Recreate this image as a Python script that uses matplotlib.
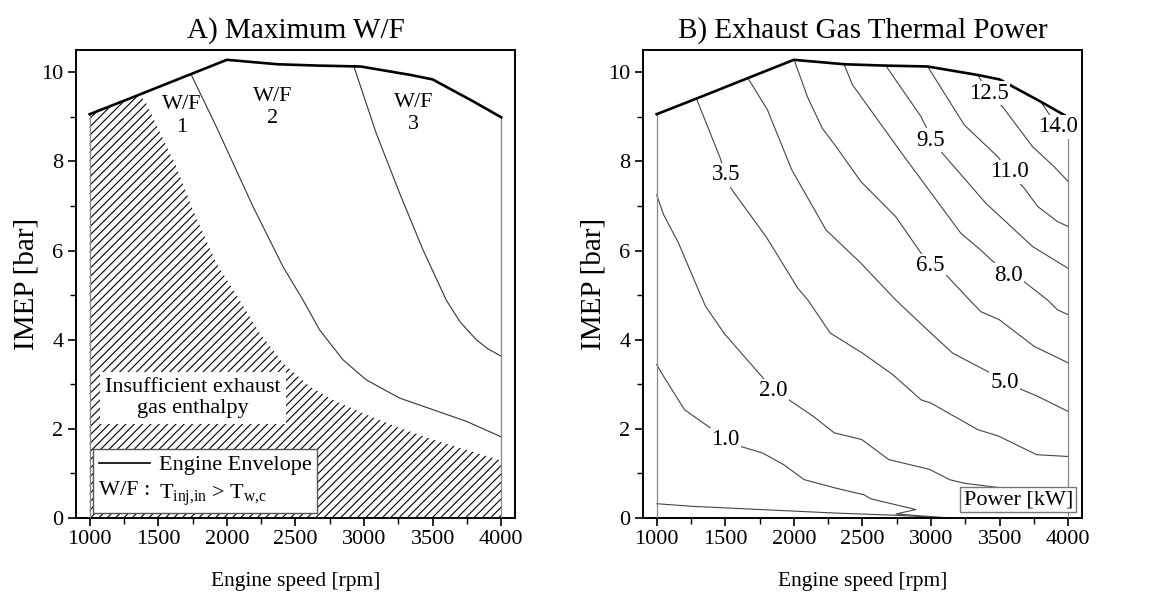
import matplotlib
matplotlib.use("Agg")
import matplotlib.pyplot as plt
import numpy as np
from matplotlib.legend_handler import HandlerBase
from matplotlib.lines import Line2D
from matplotlib.text import Text
from matplotlib.offsetbox import AnchoredText

plt.rcParams['font.family'] = ['Liberation Serif', 'DejaVu Serif']
plt.rcParams['mathtext.fontset'] = 'custom'
plt.rcParams['mathtext.rm'] = 'Liberation Serif'
plt.rcParams['mathtext.it'] = 'Liberation Serif:italic'
plt.rcParams['hatch.linewidth'] = 0.8

# engine envelope (max IMEP vs speed)
env_rpm = [1000, 1290, 1665, 2000, 2370, 2670, 2975, 3340, 3500, 3800, 4000]
env_imep = [9.06, 9.41, 9.87, 10.28, 10.18, 10.15, 10.13, 9.94, 9.84, 9.34, 8.99]

# A) boundaries
ins_rpm = [1364, 1413, 1632, 1753, 1923, 2093, 2239, 2409, 2603, 2773, 3016, 3259, 3502, 4000]
ins_imep = [9.50, 9.30, 7.88, 6.91, 5.72, 4.89, 4.15, 3.48, 2.95, 2.65, 2.32, 2.02, 1.76, 1.29]
wf1_rpm = [1741, 1923, 2190, 2409, 2555, 2676, 2846, 3016, 3259, 3502, 3745, 4000]
wf1_imep = [9.94, 8.78, 6.99, 5.64, 4.89, 4.22, 3.55, 3.10, 2.69, 2.43, 2.17, 1.82]
wf2_rpm = [2926, 3089, 3259, 3429, 3599, 3700, 3818, 3900, 4000]
wf2_imep = [10.13, 8.63, 7.29, 6.02, 4.89, 4.40, 4.00, 3.80, 3.63]
wf_labels = ["W/F\n1", "W/F\n2", "W/F\n3"]
wf_lab_rpm = [1668, 2336, 3360]
wf_lab_imep = [9.02, 9.21, 9.08]

# B) exhaust thermal power contours [kW]
contours = {
    0.5: ([1000, 1269, 2306, 2750, 3130],
          [0.32, 0.26, 0.11, 0.06, 0.0]),
    1.0: ([1000, 1050, 1203, 1410, 1498, 1607, 1771, 1924, 2076, 2306, 2512, 2561, 2889, 2745, 3000, 3130],
          [3.44, 3.18, 2.43, 1.98, 1.76, 1.61, 1.46, 1.20, 0.86, 0.67, 0.52, 0.43, 0.19, 0.09, 0.03, 0.0]),
    2.0: ([1000, 1050, 1159, 1300, 1356, 1495, 1765, 1850, 1955, 2142, 2295, 2495, 2692, 2990, 3135, 3242, 3500, 4000],
          [7.25, 6.81, 6.17, 5.15, 4.75, 4.13, 3.18, 2.84, 2.67, 2.28, 1.91, 1.76, 1.31, 1.09, 0.86, 0.78, 0.68, 0.58]),
    3.5: ([1290, 1465, 1500, 1545, 1800, 2030, 2100, 2265, 2500, 2720, 2928, 2998, 3342, 3490, 3770, 4000],
          [9.41, 8.06, 7.70, 7.38, 6.30, 5.15, 4.90, 4.15, 3.70, 3.22, 2.65, 2.58, 1.98, 1.84, 1.42, 1.38]),
    5.0: ([1665, 1807, 1985, 2235, 2488, 2743, 2974, 3157, 3436, 3533, 3631, 3777, 4000],
          [9.87, 9.16, 7.81, 6.46, 5.72, 4.89, 4.22, 3.70, 3.25, 3.03, 2.92, 2.73, 2.39]),
    6.5: ([2002, 2099, 2208, 2306, 2488, 2743, 2986, 3120, 3278, 3363, 3497, 3752, 4000],
          [10.28, 9.45, 8.74, 8.34, 7.55, 6.76, 5.68, 5.42, 4.90, 4.63, 4.45, 3.85, 3.48]),
    8.0: ([2366, 2427, 2804, 3217, 3363, 3558, 3679, 3850, 3922, 4000],
          [10.18, 9.72, 8.11, 6.39, 6.01, 5.45, 5.30, 4.89, 4.67, 4.56]),
    9.5: ([2670, 2926, 3011, 3084, 3400, 3558, 3740, 4000],
          [10.15, 9.01, 8.48, 8.18, 7.06, 6.61, 6.09, 5.60]),
    11.0: ([2975, 3242, 3485, 3570, 3679, 3777, 3922, 4000],
           [10.13, 8.82, 8.11, 7.77, 7.40, 6.99, 6.65, 6.54]),
    12.5: ([3340, 3424, 3521, 3740, 3898, 4000],
           [9.94, 9.53, 9.23, 8.33, 7.88, 7.55]),
    14.0: ([3800, 3922, 4000],
           [9.34, 8.78, 8.60]),
}
lab_levels = [1.0, 2.0, 3.5, 5.0, 6.5, 8.0, 9.5, 11.0, 12.5, 14.0]
lab_rpm = [1500, 1850, 1503, 3536, 2995, 3565, 2999, 3570, 3424, 3925]
lab_imep = [1.76, 2.86, 7.70, 3.03, 5.66, 5.45, 8.48, 7.77, 9.53, 8.78]


class TextHandle(HandlerBase):
    # legend "handle" that is just a piece of text
    def create_artists(self, legend, orig_handle, xdescent, ydescent,
                       width, height, fontsize, trans):
        t = Text(-xdescent, -ydescent + height / 2, orig_handle,
                 fontsize=fontsize, va='center', ha='left')
        t.set_transform(trans)
        return [t]


def style_axes(ax):
    ax.set_xlim(900, 4100)
    ax.set_ylim(0, 10.5)
    ax.set_xticks(np.arange(1000, 4001, 500))
    ax.set_xticks(np.arange(1000, 4001, 250), minor=True)
    ax.set_yticks(np.arange(0, 11, 2))
    ax.set_yticks(np.arange(0, 11, 1), minor=True)
    ax.tick_params(which='major', length=6, width=1.2, labelsize=16, pad=3)
    ax.tick_params(which='minor', length=4, width=1.0)
    for s in ax.spines.values():
        s.set_linewidth(1.4)
    ax.set_xlabel("Engine speed [rpm]", fontsize=15.5, labelpad=16)
    ax.set_ylabel("IMEP [bar]", fontsize=21, labelpad=1)


def draw_envelope(ax):
    ax.plot(env_rpm, env_imep, color='black', lw=1.9, zorder=4)
    ax.plot([env_rpm[0], env_rpm[0]], [0, env_imep[0]], color='#888888', lw=0.9, zorder=3)
    ax.plot([env_rpm[-1], env_rpm[-1]], [0, env_imep[-1]], color='#888888', lw=0.9, zorder=3)


fig = plt.figure(figsize=(11.51, 6.04), dpi=100)
axA = fig.add_axes([0.066, 0.1424, 0.3814, 0.7748])
axB = fig.add_axes([0.5586, 0.1424, 0.3814, 0.7748])

# ---- A) Maximum W/F
env_r = np.array(env_rpm)
env_i = np.array(env_imep)
keep = env_r < ins_rpm[0]
poly_x = [env_rpm[0]] + list(env_r[keep]) + ins_rpm + [ins_rpm[-1]]
poly_y = [0] + list(env_i[keep]) + ins_imep + [0]
axA.fill(poly_x, poly_y, facecolor='white', edgecolor='black', hatch='////',
         linewidth=0, zorder=1)
axA.plot(wf1_rpm, wf1_imep, color='#333333', lw=0.8, zorder=3)
axA.plot(wf2_rpm, wf2_imep, color='#333333', lw=0.8, zorder=3)
draw_envelope(axA)
for lab, x, y in zip(wf_labels, wf_lab_rpm, wf_lab_imep):
    axA.text(x, y, lab, ha='center', va='center', fontsize=16, linespacing=1.25)
axA.text(1753, 2.69, "Insufficient exhaust\ngas enthalpy", ha='center', va='center',
         fontsize=16, linespacing=1.2, zorder=5,
         bbox=dict(facecolor='white', edgecolor='none', pad=4))
leg = axA.legend(handles=[Line2D([], [], color='black', lw=1.2), "W/F :"],
                 labels=["Engine Envelope", r"T$_{\mathrm{inj{,}in}}$ > T$_{\mathrm{w{,}c}}$"],
                 handler_map={str: TextHandle()},
                 loc='lower left', bbox_to_anchor=(0.039, 0.0105), borderaxespad=0,
                 fontsize=16, handlelength=2.3, handletextpad=0.4, labelspacing=0.3,
                 borderpad=0.25, fancybox=False, framealpha=1, edgecolor='#555555')
leg.get_frame().set_linewidth(1.0)
leg.set_zorder(6)
style_axes(axA)
axA.set_title("A) Maximum W/F", fontsize=21, pad=9)

# ---- B) Exhaust Gas Thermal Power
for lev, (xs, ys) in contours.items():
    axB.plot(xs, ys, color='#444444', lw=0.8, zorder=2)
draw_envelope(axB)
for lev, x, y in zip(lab_levels, lab_rpm, lab_imep):
    axB.text(x, y, f"{lev:.1f}", ha='center', va='center', fontsize=16.5, zorder=5,
             bbox=dict(facecolor='white', edgecolor='none', pad=1))
at = AnchoredText("Power [kW]", loc='lower right', prop=dict(size=16),
                  pad=0.15, borderpad=0.25, frameon=True)
at.patch.set_edgecolor('#777777')
at.patch.set_linewidth(1.0)
at.set_zorder(6)
axB.add_artist(at)
style_axes(axB)
axB.set_title("B) Exhaust Gas Thermal Power", fontsize=21, pad=9)

fig.savefig("out.png", dpi=100)
